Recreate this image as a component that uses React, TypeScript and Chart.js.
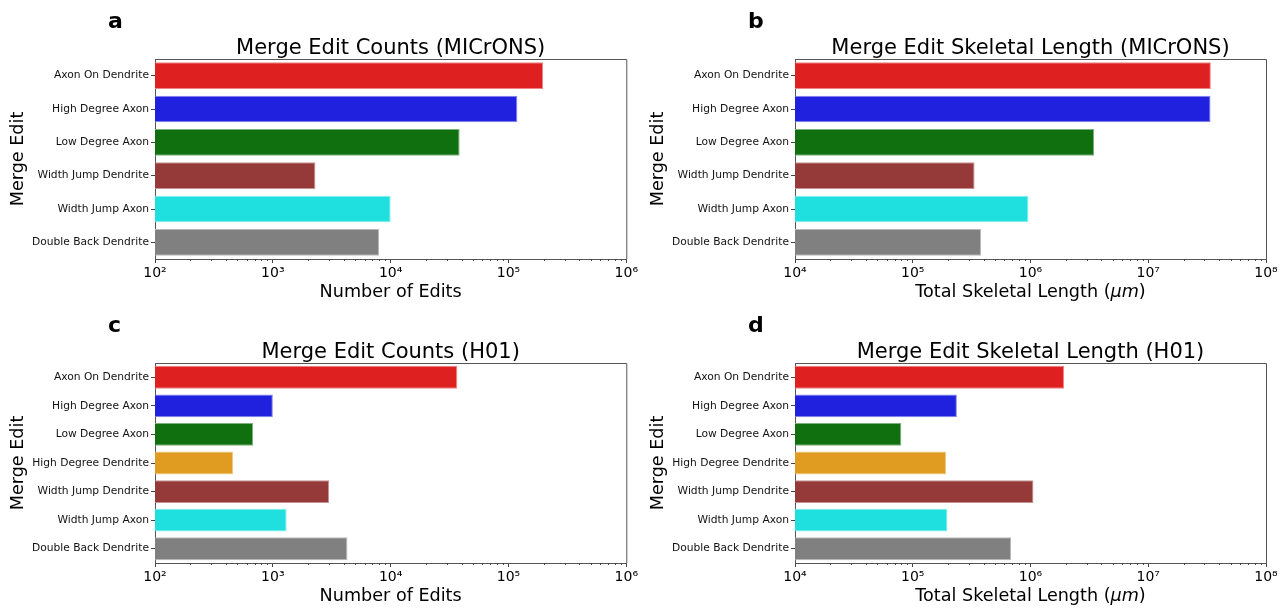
import React, { useEffect, useRef } from 'react';
import { Chart, registerables } from 'chart.js';

Chart.register(...registerables);

// ---------------- data ----------------
const micronsCategories = [
  'Axon On Dendrite',
  'High Degree Axon',
  'Low Degree Axon',
  'Width Jump Dendrite',
  'Width Jump Axon',
  'Double Back Dendrite',
];
const micronsColors = ['#DF2020', '#2020DF', '#107010', '#963939', '#20DFDF', '#808080'];
const micronsEditCounts = [197000, 119000, 38500, 2300, 10000, 8000];
const micronsSkeletalLength = [3.4e7, 3.38e7, 3.47e6, 3.35e5, 9.6e5, 3.8e5];

const h01Categories = [
  'Axon On Dendrite',
  'High Degree Axon',
  'Low Degree Axon',
  'High Degree Dendrite',
  'Width Jump Dendrite',
  'Width Jump Axon',
  'Double Back Dendrite',
];
const h01Colors = ['#DF2020', '#2020DF', '#107010', '#DF9C20', '#963939', '#20DFDF', '#808080'];
const h01EditCounts = [36800, 1000, 680, 460, 3000, 1310, 4300];
const h01SkeletalLength = [1.93e6, 2.37e5, 8.0e4, 1.92e5, 1.06e6, 1.97e5, 6.86e5];

const countTicks = [1e2, 1e3, 1e4, 1e5, 1e6];
const lengthTicks = [1e4, 1e5, 1e6, 1e7, 1e8];

// axis-title pieces: [text, italic]
const countAxisTitle: [string, boolean][] = [['Number of Edits', false]];
const lengthAxisTitle: [string, boolean][] = [
  ['Total Skeletal Length (', false],
  ['μm', true],
  [')', false],
];

// ---------------- helpers ----------------
const FONT = "'DejaVu Sans', 'Liberation Sans', sans-serif";
const SUP: Record<string, string> = {
  '0': '⁰', '1': '¹', '2': '²', '3': '³', '4': '⁴', '5': '⁵', '6': '⁶', '7': '⁷', '8': '⁸', '9': '⁹', '-': '⁻',
};
function powLabel(v: number): string {
  const e = Math.round(Math.log10(v));
  return '10' + String(e).split('').map((c) => SUP[c] || c).join('');
}
function tint(hex: string, f: number): string {
  const n = parseInt(hex.slice(1), 16);
  const r = (n >> 16) & 255, g = (n >> 8) & 255, b = n & 255;
  const m = (c: number) => Math.round(c + (255 - c) * f);
  return `rgb(${m(r)},${m(g)},${m(b)})`;
}

const CANVAS_H = 304;
const PLOT_BOTTOM = 259;
const PLOT_LEFT = 155;
const AXIS_TITLE_SIZE = 17.6;

type PanelProps = {
  letter: string;
  title: string;
  xTitle: [string, boolean][];
  labels: string[];
  values: number[];
  colors: string[];
  majorTicks: number[];
  width: number;
  plotRight: number;
  left: number;
  top: number;
};

function Panel(p: PanelProps) {
  const ref = useRef<HTMLCanvasElement | null>(null);
  useEffect(() => {
    const canvas = ref.current;
    if (!canvas) return;
    const min = p.majorTicks[0];
    const max = p.majorTicks[p.majorTicks.length - 1];

    const framePlugin = {
      id: 'frame_' + p.letter,
      afterDraw(chart: any) {
        const { ctx, chartArea } = chart;
        const xs = chart.scales.x;
        ctx.save();
        // top and right spines
        ctx.strokeStyle = '#555';
        ctx.lineWidth = 1;
        ctx.beginPath();
        ctx.moveTo(chartArea.left, chartArea.top + 0.5);
        ctx.lineTo(chartArea.right + 0.5, chartArea.top + 0.5);
        ctx.lineTo(chartArea.right + 0.5, chartArea.bottom);
        ctx.stroke();
        // minor ticks
        ctx.strokeStyle = '#444';
        ctx.beginPath();
        for (let d = min; d < max; d *= 10) {
          for (let k = 2; k <= 9; k++) {
            const px = Math.round(xs.getPixelForValue(k * d)) + 0.5;
            ctx.moveTo(px, chartArea.bottom);
            ctx.lineTo(px, chartArea.bottom + 2);
          }
        }
        ctx.stroke();
        // x-axis title (with italic unit)
        ctx.fillStyle = '#000';
        ctx.textBaseline = 'alphabetic';
        ctx.textAlign = 'left';
        const fontFor = (it: boolean) => `${it ? 'italic ' : ''}${AXIS_TITLE_SIZE}px ${FONT}`;
        let total = 0;
        const widths = p.xTitle.map(([t, it]) => {
          ctx.font = fontFor(it);
          const w = ctx.measureText(t).width;
          total += w;
          return w;
        });
        let x = (chartArea.left + chartArea.right) / 2 - total / 2;
        p.xTitle.forEach(([t, it], i) => {
          ctx.font = fontFor(it);
          ctx.fillText(t, x, 296.5);
          x += widths[i];
        });
        // panel letter
        ctx.font = `bold 22px ${FONT}`;
        ctx.fillText(p.letter, 108, 28);
        ctx.restore();
      },
    };

    const chart = new Chart(canvas, {
      type: 'bar',
      data: {
        labels: p.labels,
        datasets: [
          {
            data: p.values,
            backgroundColor: p.colors,
            borderColor: p.colors.map((c) => tint(c, 0.45)),
            borderWidth: 1,
            categoryPercentage: 0.8,
            barPercentage: 1,
          },
        ],
      },
      options: {
        animation: false,
        responsive: false,
        maintainAspectRatio: false,
        indexAxis: 'y',
        layout: { padding: { left: 0, right: p.width - p.plotRight, top: 0, bottom: 0 } },
        plugins: {
          legend: { display: false },
          tooltip: { enabled: false },
          title: {
            display: true,
            text: p.title,
            fullSize: false,
            color: '#000',
            font: { family: FONT, size: 21, weight: 'normal', lineHeight: 1.0 },
            padding: { top: 38, bottom: 0 },
          },
        },
        scales: {
          x: {
            type: 'logarithmic',
            position: 'bottom',
            min,
            max,
            afterBuildTicks: (s: any) => {
              s.ticks = p.majorTicks.map((v) => ({ value: v }));
            },
            afterFit: (s: any) => {
              s.height = CANVAS_H - PLOT_BOTTOM;
            },
            ticks: {
              autoSkip: false,
              maxRotation: 0,
              padding: 2,
              color: '#000',
              font: { family: FONT, size: 14 },
              callback: (v: any) => powLabel(Number(v)),
            },
            grid: { drawOnChartArea: false, drawTicks: true, tickLength: 4, tickColor: '#444' },
            border: { display: true, color: '#555', width: 1 },
            title: { display: false },
          },
          y: {
            type: 'category',
            afterFit: (s: any) => {
              s.width = PLOT_LEFT;
            },
            ticks: {
              autoSkip: false,
              padding: 2,
              color: '#111',
              font: { family: FONT, size: 10.7 },
            },
            grid: { drawOnChartArea: false, drawTicks: true, tickLength: 4, tickColor: '#444', offset: false },
            border: { display: true, color: '#555', width: 1 },
            title: {
              display: true,
              text: 'Merge Edit',
              color: '#000',
              font: { family: FONT, size: AXIS_TITLE_SIZE, lineHeight: 1.2 },
              padding: { top: 8, bottom: 0 },
            },
          },
        },
      } as any,
      plugins: [framePlugin],
    });
    return () => chart.destroy();
  }, []);

  return (
    <canvas
      ref={ref}
      width={p.width}
      height={CANVAS_H}
      style={{ position: 'absolute', left: p.left, top: p.top, width: p.width, height: CANVAS_H }}
    />
  );
}

export default function App() {
  return (
    <div style={{ position: 'absolute', left: 0, top: 0, width: 1284, height: 608, background: '#fff' }}>
      <Panel
        letter="a"
        title="Merge Edit Counts (MICrONS)"
        xTitle={countAxisTitle}
        labels={micronsCategories}
        values={micronsEditCounts}
        colors={micronsColors}
        majorTicks={countTicks}
        width={640}
        plotRight={628}
        left={0}
        top={0}
      />
      <Panel
        letter="b"
        title="Merge Edit Skeletal Length (MICrONS)"
        xTitle={lengthAxisTitle}
        labels={micronsCategories}
        values={micronsSkeletalLength}
        colors={micronsColors}
        majorTicks={lengthTicks}
        width={644}
        plotRight={626}
        left={640}
        top={0}
      />
      <Panel
        letter="c"
        title="Merge Edit Counts (H01)"
        xTitle={countAxisTitle}
        labels={h01Categories}
        values={h01EditCounts}
        colors={h01Colors}
        majorTicks={countTicks}
        width={640}
        plotRight={628}
        left={0}
        top={304}
      />
      <Panel
        letter="d"
        title="Merge Edit Skeletal Length (H01)"
        xTitle={lengthAxisTitle}
        labels={h01Categories}
        values={h01SkeletalLength}
        colors={h01Colors}
        majorTicks={lengthTicks}
        width={644}
        plotRight={626}
        left={640}
        top={304}
      />
    </div>
  );
}
